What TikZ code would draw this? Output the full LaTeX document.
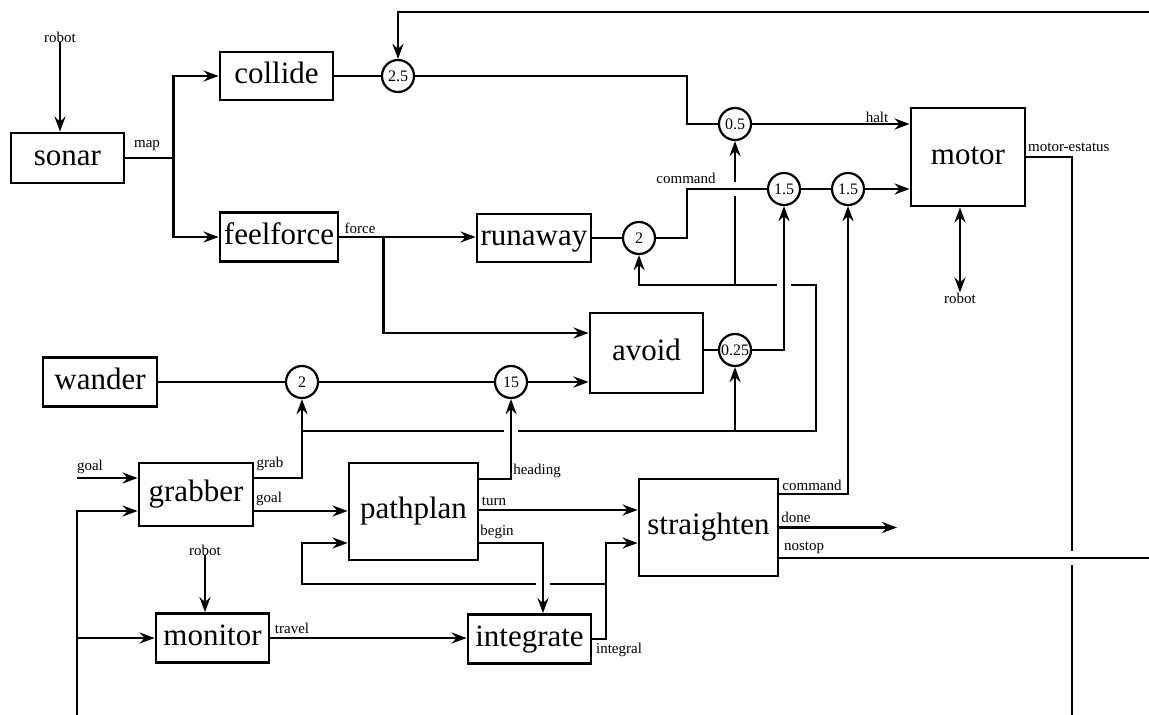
\documentclass[tikz,border=0pt]{standalone}
\usepackage{fontspec}
\setmainfont{Liberation Serif}
\usetikzlibrary{arrows.meta, positioning, calc}

\begin{document}
\begin{tikzpicture}[
  x=1pt, y=-1pt,
  box/.style={draw, line width=2.8pt, inner sep=0pt, text height=21pt, text depth=6.5pt,
              font=\fontsize{31}{31}\selectfont},
  gain/.style={draw, circle, line width=2.2pt, minimum size=32pt, inner sep=0pt,
               fill=white, font=\fontsize{16}{16}\selectfont},
  lab/.style={inner sep=0pt, font=\fontsize{15}{15}\selectfont},
  wire/.style={line width=2.7pt},
  arr/.style={wire, -{Stealth[length=15pt, width=11pt, inset=5pt]}},
  darr/.style={wire, {Stealth[length=15pt, width=11pt, inset=5pt]}-{Stealth[length=15pt, width=11pt, inset=5pt]}}
]
  \useasboundingbox (0,0) rectangle (1149,715);

  % behaviour boxes
  \node[box, minimum width=113pt, minimum height=50pt] (sonar)      at (67.5,158)  {sonar};
  \node[box, minimum width=113pt, minimum height=48pt] (collide)    at (276.5,76)  {collide};
  \node[box, minimum width=118pt, minimum height=49pt] (feelforce)  at (279,237)   {feelforce};
  \node[box, minimum width=114pt, minimum height=48pt] (runaway)    at (534,238)   {runaway};
  \node[box, minimum width=113pt, minimum height=80pt] (avoid)      at (646.5,353) {avoid};
  \node[box, minimum width=114pt, minimum height=49pt] (wander)     at (100,382)   {wander};
  \node[box, minimum width=114pt, minimum height=63pt] (grabber)    at (196,494.5) {grabber};
  \node[box, minimum width=129pt, minimum height=97pt] (pathplan)   at (413.5,511.5) {pathplan};
  \node[box, minimum width=139pt, minimum height=97pt] (straighten) at (708.5,527.5) {straighten};
  \node[box, minimum width=123pt, minimum height=49pt] (integrate)  at (529.5,639) {integrate};
  \node[box, minimum width=113pt, minimum height=49pt] (monitor)    at (212.5,638) {monitor};
  \node[box, minimum width=114pt, minimum height=98pt] (motor)      at (968,157)   {motor};

  % suppression / inhibition nodes
  \node[gain] (g25)  at (398,76)  {2.5};
  \node[gain] (g05)  at (735,124) {0.5};
  \node[gain] (g15a) at (784,189) {1.5};
  \node[gain] (g15b) at (848,189) {1.5};
  \node[gain] (g2r)  at (639,238) {2};
  \node[gain] (g025) at (735,350) {0.25};
  \node[gain] (g2w)  at (302,382) {2};
  \node[gain] (g15)  at (511,382) {15};

  % free ends and junctions
  \node[lab] (rsonar) at (60,37)   {robot};
  \node[lab] (rmon)   at (205,550) {robot};
  \node[lab] (rmot)   at (960,298) {robot};
  \coordinate (topR)  at (1149,12);
  \coordinate (goalin) at (77,478);
  \coordinate (botL)  at (77,715);
  \coordinate (botR)  at (1072,715);
  \coordinate (sj)    at (302,431);
  \coordinate (ij)    at (606,584);
  \coordinate (doneend) at (897,527.5);
  \coordinate (nsend) at (1149,558);
  \coordinate (grabo) at ($(grabber.east)+(0,-16.5)$);
  \coordinate (goalo) at ($(grabber.east)+(0,16.5)$);
  \coordinate (grabi) at ($(grabber.west)+(0,16.5)$);
  \coordinate (headg) at ($(pathplan.east)+(0,-32.5)$);
  \coordinate (turn)  at ($(pathplan.east)+(0,-1.5)$);
  \coordinate (begin) at ($(pathplan.east)+(0,31.5)$);
  \coordinate (loopi) at ($(pathplan.west)+(0,31.5)$);
  \coordinate (intin) at ($(straighten.west)+(0,15.5)$);
  \coordinate (scmd)  at ($(straighten.east)+(0,-33.5)$);
  \coordinate (nstop) at ($(straighten.east)+(0,30.5)$);

  % top part
  \draw[arr] (rsonar.south) -- (rsonar.south |- sonar.north);
  \draw[arr] (sonar.east) -- ++(48,0) |- (collide.west);
  \draw[arr] (sonar.east) -- ++(48,0) |- (feelforce.west);
  \draw[wire] (collide) -- (g25);
  \draw[arr] (topR) -| (g25.north);
  \draw[wire] (g25.east) -| (687,124) -- (g05.west);
  \draw[arr] (g05.east) -- (g05.east -| motor.west);
  \draw[arr] (feelforce.east) -- (feelforce.east -| runaway.west);
  \draw[arr] (feelforce.east) -- ++(44,0) |- ($(avoid.west)+(0,-20)$);
  \draw[wire] (runaway) -- (g2r);
  \draw[wire] (g2r.east) -| (687,189) -- (g15a.west);
  \draw[wire] (g15a) -- (g15b);
  \draw[arr] (g15b.east) -- (g15b.east -| motor.west);
  \draw[darr] (rmot.north) -- (rmot.north |- motor.south);
  \draw[wire] (motor.east) -| (1072,551);
  \draw[wire] (1072,565) -- (botR);

  % avoid and wander
  \draw[wire] (avoid.east |- g025.west) -- (g025.west);
  \draw[arr] (g025.east) -| (g15a.south);
  \draw[wire] (wander) -- (g2w);
  \draw[wire] (g2w) -- (g15);
  \draw[arr] (g15.east) -- (g15.east -| avoid.west);

  % grab suppression lines
  \draw[arr] (grabo) -| (g2w.south);
  \draw[wire] (sj) -- (504,431);
  \draw[wire] (518,431) -- (816,431) |- (791,285);
  \draw[arr] (777,285) -| (g2r.south);
  \draw[arr] (g025.south |- sj) -- (g025.south);
  \draw[wire] (735,285) -- (735,196);
  \draw[arr] (735,182) -- (g05.south);

  % lower part
  \draw[arr] (goalin) -- (goalin -| grabber.west);
  \draw[arr] (botL) |- (grabi);
  \draw[arr] (botL |- monitor.west) -- (monitor.west);
  \draw[arr] (rmon.south) -- (rmon.south |- monitor.north);
  \draw[arr] (goalo) -- (goalo -| pathplan.west);
  \draw[arr] (headg) -| (g15.south);
  \draw[arr] (turn) -- (turn -| straighten.west);
  \draw[arr] (begin) -| ($(integrate.north)+(13.5,0)$);
  \draw[arr] (monitor.east) -- (monitor.east -| integrate.west);
  \draw[arr] (integrate.east) -| (ij) |- (intin);
  \draw[wire] (ij) -- (550,584);
  \draw[arr] (536,584) -- (302,584) |- (loopi);
  \draw[arr] (scmd) -| (g15b.south);
  \draw[arr] (straighten.east |- doneend) -- (doneend);
  \draw[wire] (nstop) -- (nsend);

  % signal names
  \node[lab] (lmap)   at (147,146)  {map};
  \node[lab] (lforce) at (360,228)  {force};
  \node[lab] (lcmd)   at (686,178)  {command};
  \node[lab] (lhalt)  at (877,117)  {halt};
  \node[lab, anchor=west] (lstat) at (1028,147) {motor-estatus};
  \node[lab] (lgoal)  at (90,467)   {goal};
  \node[lab] (lgrab)  at (270,464)  {grab};
  \node[lab] (lgoal2) at (269,499)  {goal};
  \node[lab] (lhead)  at (537,471)  {heading};
  \node[lab] (lturn)  at (494,501)  {turn};
  \node[lab] (lbegin) at (497,532)  {begin};
  \node[lab] (lscmd)  at (812,485)  {command};
  \node[lab] (ldone)  at (796,517)  {done};
  \node[lab] (lns)    at (804,548)  {nostop};
  \node[lab] (lint)   at (619,650)  {integral};
  \node[lab] (ltrav)  at (292,628)  {travel};
\end{tikzpicture}
\end{document}
